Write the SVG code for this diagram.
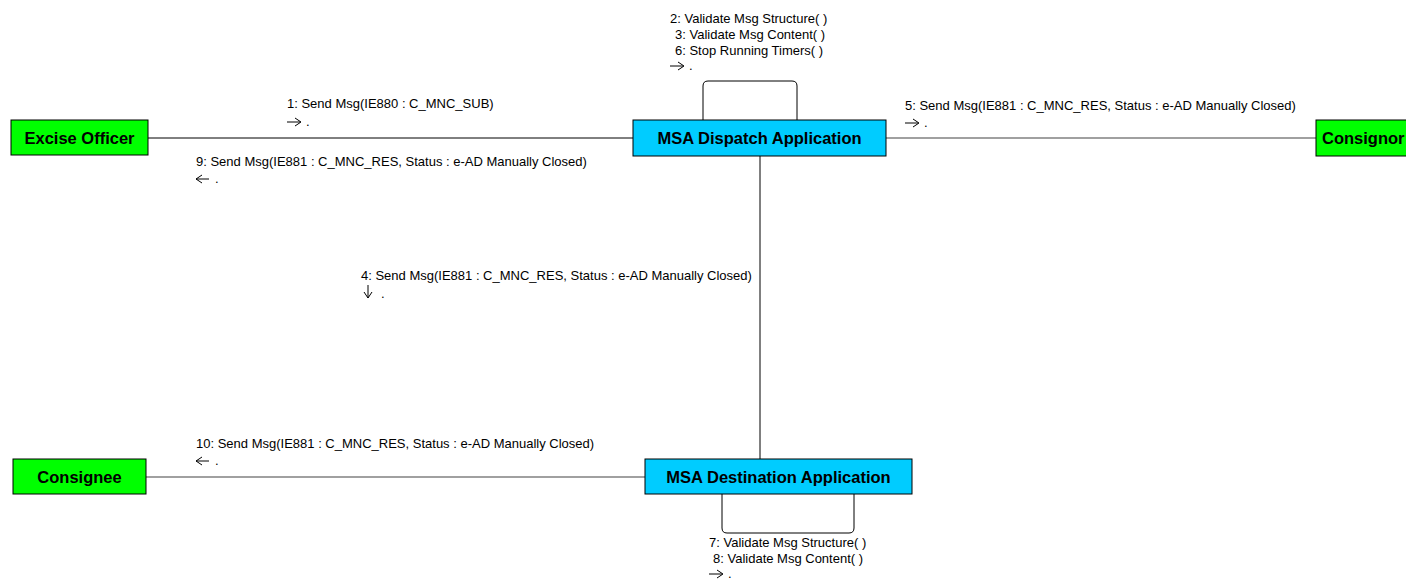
<svg xmlns="http://www.w3.org/2000/svg" width="1406" height="579" viewBox="0 0 1406 579">
<style>
.actor{fill:#00ff00;stroke:#000;stroke-width:1}
.app{fill:#00ccff;stroke:#000;stroke-width:1}
.nt{font-family:"Liberation Sans",Arial,sans-serif;font-size:16.5px;font-weight:bold;fill:#000;text-anchor:middle}
.lbl{font-family:"Liberation Sans",Arial,sans-serif;font-size:13px;fill:#000}
.ln{fill:none;stroke:#000;stroke-width:1}
.lg{fill:none;stroke:#808080;stroke-width:1.3}
.ar{fill:none;stroke:#000;stroke-width:1}
</style>
<rect width="1406" height="579" fill="#fff"/>
<g id="connectors">
<line class="ln" x1="148" y1="138" x2="633" y2="138"/>
<line class="lg" x1="886" y1="138" x2="1316" y2="138"/>
<line class="ln" x1="760" y1="156" x2="760" y2="459"/>
<line class="lg" x1="146" y1="477" x2="645" y2="477"/>
<path class="ln" d="M703,120 V86 Q703,81 708,81 H792 Q797,81 797,86 V120"/>
<path class="ln" d="M722,494 V528 Q722,533 727,533 H849 Q854,533 854,528 V494"/>
</g>
<g id="labels">
<text class="lbl" x="287" y="108">1: Send Msg(IE880 : C_MNC_SUB)</text>
<path class="ar" d="M287,122 H300 M295,118 L301,122 L295,126"/>
<text class="lbl" x="306" y="126">.</text>
<text class="lbl" x="196" y="166">9: Send Msg(IE881 : C_MNC_RES, Status : e-AD Manually Closed)</text>
<path class="ar" d="M196,179 H209 M202,175 L196,179 L202,183"/>
<text class="lbl" x="215" y="183">.</text>
<text class="lbl" x="670" y="23">2: Validate Msg Structure( )</text>
<text class="lbl" x="675" y="39">3: Validate Msg Content( )</text>
<text class="lbl" x="675" y="55">6: Stop Running Timers( )</text>
<path class="ar" d="M670,66 H683 M678,62 L684,66 L678,70"/>
<text class="lbl" x="689" y="70">.</text>
<text class="lbl" x="905" y="110">5: Send Msg(IE881 : C_MNC_RES, Status : e-AD Manually Closed)</text>
<path class="ar" d="M905,123 H918 M913,119 L919,123 L913,127"/>
<text class="lbl" x="924" y="127">.</text>
<text class="lbl" x="361" y="280">4: Send Msg(IE881 : C_MNC_RES, Status : e-AD Manually Closed)</text>
<path class="ar" d="M368,285 V298 M364,292 L368,298 L372,292"/>
<text class="lbl" x="381" y="298">.</text>
<text class="lbl" x="196" y="448">10: Send Msg(IE881 : C_MNC_RES, Status : e-AD Manually Closed)</text>
<path class="ar" d="M196,461 H209 M202,457 L196,461 L202,465"/>
<text class="lbl" x="215" y="465">.</text>
<text class="lbl" x="709" y="547">7: Validate Msg Structure( )</text>
<text class="lbl" x="713" y="563">8: Validate Msg Content( )</text>
<path class="ar" d="M709,574 H722 M717,570 L723,574 L717,578"/>
<text class="lbl" x="728" y="578">.</text>
</g>
<g id="excise-officer">
<rect class="actor" x="11" y="120" width="137" height="35"/>
<text class="nt" x="79.5" y="143.5">Excise Officer</text>
</g>
<g id="msa-dispatch">
<rect class="app" x="633" y="120" width="253" height="36"/>
<text class="nt" x="759.5" y="144">MSA Dispatch Application</text>
</g>
<g id="consignor">
<rect class="actor" x="1316" y="120" width="100" height="36"/>
<text class="nt" x="1322" y="144" style="text-anchor:start">Consignor</text>
</g>
<g id="consignee">
<rect class="actor" x="13" y="459" width="133" height="35"/>
<text class="nt" x="79.5" y="482.5">Consignee</text>
</g>
<g id="msa-destination">
<rect class="app" x="645" y="459" width="267" height="35"/>
<text class="nt" x="778.5" y="482.5">MSA Destination Application</text>
</g>
</svg>
